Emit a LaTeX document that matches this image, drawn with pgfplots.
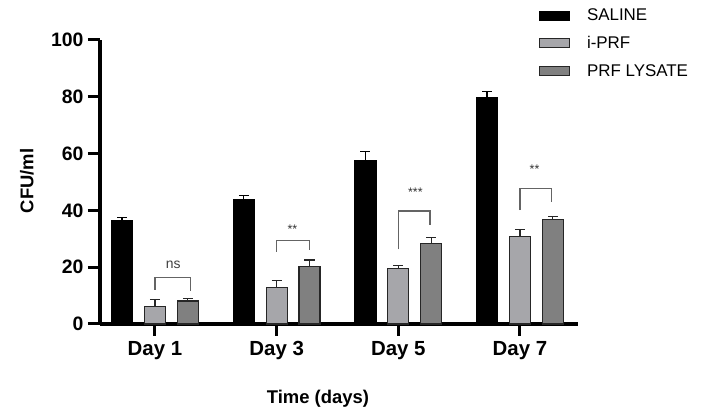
\documentclass[border=0pt]{standalone}
\usepackage{fontspec}
\setmainfont{Liberation Sans}
\usepackage{pgfplots}
\usepackage{pgfplotstable}
\pgfplotsset{compat=1.18}

\definecolor{iprf}{RGB}{166,166,170}
\definecolor{lysate}{RGB}{128,128,128}
\definecolor{bracket}{RGB}{100,100,100}

% x: day position (1..4) plus bar offset, y: CFU/ml mean, e: upper error
\pgfplotstableread{
x     y     e
0.73  36.3  1.3
1.73  43.9  1.3
2.73  57.5  3.2
3.73  79.8  2.0
}\saline
\pgfplotstableread{
x     y     e
1.00  6.1   2.6
2.00  12.9  2.5
3.00  19.6  1.0
4.00  30.9  2.4
}\iprf
\pgfplotstableread{
x     y     e
1.27  8.1   0.9
2.27  20.3  2.2
3.27  28.3  2.1
4.27  36.9  0.9
}\lysate

\pgfplotsset{
  cfubar/.style={
    ybar, bar width=21bp, bar shift=0pt, line width=1.2bp,
    error bars/.cd,
      y dir=plus, y explicit,
      error bar style={line width=1.3bp, solid, draw=#1},
      error mark options={rotate=90, mark size=5bp, line width=1.3bp, draw=#1},
  },
}

\begin{document}
\begin{tikzpicture}
\path[use as bounding box] (0,0) rectangle (701bp,418bp);
\begin{axis}[
  at={(100bp,94bp)}, anchor=south west,
  scale only axis, width=478bp, height=284bp,
  xmin=0.548, xmax=4.477, ymin=0, ymax=100,
  clip=false,
  axis lines=left,
  axis line style={-, line width=3.2bp, black},
  tick style={line width=3bp, black},
  major tick length=12bp,
  tick align=outside,
  xtick={1,2,3,4},
  xticklabels={Day 1, Day 3, Day 5, Day 7},
  ytick={0,20,40,60,80,100},
  /pgf/number format/assume math mode=true,
  yticklabel style={font=\fontsize{19.5}{19.5}\selectfont\bfseries, xshift=-1bp},
  xticklabel style={font=\fontsize{20.5}{20.5}\selectfont\bfseries, yshift=-2bp},
  xlabel={Time (days)},
  ylabel={CFU/ml},
  xlabel style={font=\fontsize{18.5}{18.5}\selectfont\bfseries,
    at={(axis description cs:0.456,-0.264)}, anchor=center},
  ylabel style={font=\fontsize{18.5}{18.5}\selectfont\bfseries,
    at={(axis description cs:-0.153,0.504)}, anchor=center},
  legend style={at={(axis description cs:0.918,1.113)}, anchor=north west,
    draw=none, fill=none, font=\fontsize{17}{17}\selectfont,
    row sep=12bp, column sep=16bp, inner sep=0pt,
    nodes={inner sep=1bp}},
  legend cell align=left,
  legend image code/.code={\draw[#1, line width=1bp] (0bp,-4.5bp) rectangle (30bp,4.5bp);},
]
\addplot[fill=black, draw=black, cfubar=black]
  table[x=x, y=y, y error=e] {\saline};
\addlegendentry{SALINE}
\addplot[fill=iprf, draw=black!85, cfubar=black!85]
  table[x=x, y=y, y error=e] {\iprf};
\addlegendentry{i-PRF}
\addplot[fill=lysate, draw=black!85, cfubar=black!85]
  table[x=x, y=y, y error=e] {\lysate};
\addlegendentry{PRF LYSATE}

% significance brackets between i-PRF and PRF LYSATE
\addplot[sharp plot, bracket, line width=1.3bp, forget plot]
  coordinates {(1.00,12.0) (1.00,16.4) (1.29,16.4) (1.29,11.7)};
\addplot[sharp plot, bracket, line width=1.3bp, forget plot]
  coordinates {(2.00,25.5) (2.00,29.5) (2.27,29.5) (2.27,26.1)};
\addplot[sharp plot, bracket, line width=1.3bp, forget plot]
  coordinates {(3.00,26.3) (3.00,39.8) (3.26,39.8) (3.26,34.9)};
\addplot[sharp plot, bracket, line width=1.3bp, forget plot]
  coordinates {(4.00,40.1) (4.00,47.8) (4.26,47.8) (4.26,43.1)};

\node[font=\fontsize{14}{14}\selectfont, text=black!75] at (axis cs:1.15,20.8) {ns};
\node[font=\fontsize{12.5}{12.5}\selectfont, text=black!80] at (axis cs:2.13,33.5) {**};
\node[font=\fontsize{12.5}{12.5}\selectfont, text=black!80] at (axis cs:3.14,46.5) {***};
\node[font=\fontsize{12.5}{12.5}\selectfont, text=black!80] at (axis cs:4.12,54.5) {**};
\end{axis}
\end{tikzpicture}
\end{document}
